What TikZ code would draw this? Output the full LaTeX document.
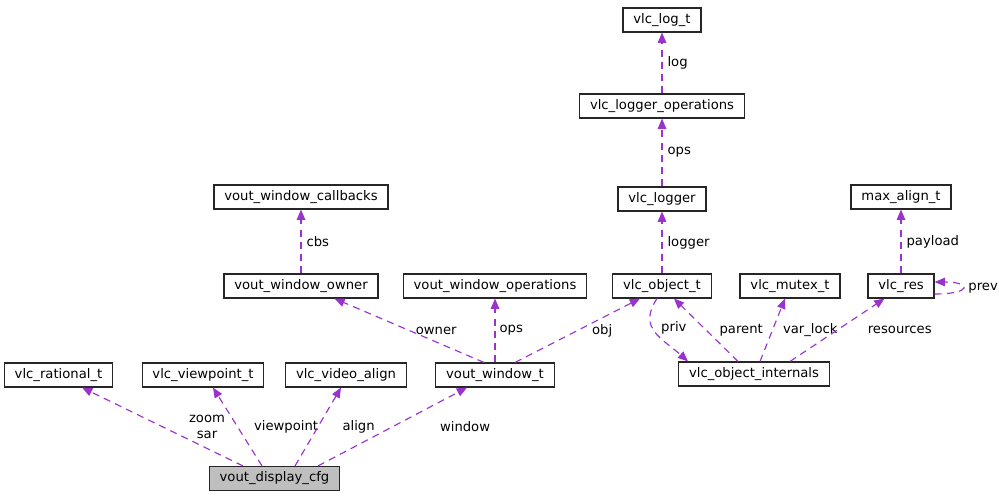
\documentclass[tikz,border=0pt]{standalone}
\usepackage{fontspec}
\setmainfont{DejaVu Sans}
\usetikzlibrary{arrows.meta, calc, positioning}
\definecolor{edgecol}{HTML}{9A32CD}
\definecolor{rootfill}{HTML}{BFBFBF}

\begin{document}
\begin{tikzpicture}[->,>={Triangle[length=5.8pt,width=4.8pt]},font=\fontsize{7.5}{9}\selectfont]
	\tikzset{struct/.style={draw=black!85, rectangle, line width=0.7pt, inner xsep=5.9pt, inner ysep=0pt, minimum height=13.6pt},
		root/.style={struct, fill=rootfill},
		use/.style={draw=edgecol, line width=0.65pt, dash pattern=on 4pt off 3pt},
		lab/.style={anchor=west, inner sep=0pt, align=center}}
	\useasboundingbox (0,0) rectangle (19.98,9.98);
	\node[struct] (log) at (13.24,9.58) {vlc\_log\_t};
	\node[struct] (loggerops) at (13.24,7.86) {vlc\_logger\_operations};
	\node[struct] (logger) at (13.24,6.00) {vlc\_logger};
	\node[struct] (object) at (13.24,4.26) {vlc\_object\_t};
	\node[struct] (callbacks) at (6.02,6.04) {vout\_window\_callbacks};
	\node[struct] (owner) at (6.02,4.26) {vout\_window\_owner};
	\node[struct] (winops) at (9.90,4.26) {vout\_window\_operations};
	\node[struct] (mutex) at (15.80,4.26) {vlc\_mutex\_t};
	\node[struct] (maxalign) at (18.02,6.04) {max\_align\_t};
	\node[struct] (res) at (18.02,4.26) {vlc\_res};
	\node[struct] (internals) at (15.08,2.50) {vlc\_object\_internals};
	\node[struct] (rational) at (1.17,2.48) {vlc\_rational\_t};
	\node[struct] (viewpoint) at (4.06,2.48) {vlc\_viewpoint\_t};
	\node[struct] (align) at (6.92,2.48) {vlc\_video\_align};
	\node[struct] (window) at (9.90,2.48) {vout\_window\_t};
	\node[root] (cfg) at (5.49,0.41) {vout\_display\_cfg};
	\path
		(loggerops)
			edge [use] node [lab, xshift=0.1cm] {log} (log)
		(logger)
			edge [use] node [lab, xshift=0.1cm] {ops} (loggerops)
		(object)
			edge [use] node [lab, xshift=0.1cm] {logger} (logger)
		(owner)
			edge [use] node [lab, xshift=0.1cm] {cbs} (callbacks)
		(res)
			edge [use] node [lab, xshift=0.1cm] {payload} (maxalign)
		(window)
			edge [use] node [lab, xshift=0.08cm] {ops} (winops)
		($(window.north)+(-0.22,0)$)
			edge [use] node [lab, xshift=0.12cm] {owner} ($(owner.south)+(0.67,0)$)
		($(window.north)+(0.4,0)$)
			edge [use] node [lab, xshift=0.28cm] {obj} ($(object.south)+(-0.44,0)$)
		($(internals.north)+(-0.32,0)$)
			edge [use] node [lab, xshift=0.26cm] {parent} ($(object.south)+(0.24,0)$)
		($(internals.north)+(0.12,0)$)
			edge [use] node [lab, xshift=0.2cm] {var\_lock} ($(mutex.south)+(-0.1,0)$)
		($(internals.north)+(0.72,0)$)
			edge [use] node [lab, xshift=0.6cm] {resources} ($(res.south)+(-0.33,0)$)
		($(cfg.north)+(-0.63,0)$)
			edge [use] node [lab, xshift=0.52cm] {zoom\\sar} ($(rational.south)+(0.47,0)$)
		($(cfg.north)+(-0.25,0)$)
			edge [use] node [lab, xshift=0.32cm] {viewpoint} ($(viewpoint.south)+(0.2,0)$)
		($(cfg.north)+(0.41,0)$)
			edge [use] node [lab, xshift=0.48cm] {align} ($(align.south)+(-0.1,0)$)
		($(cfg.north)+(0.87,0)$)
			edge [use] node [lab, xshift=0.94cm] {window} ($(window.south)+(-0.56,0)$);
	\draw[use] ($(object.south)+(-0.1,0)$) .. controls +(-0.4,-0.6) and +(-0.5,0.45) .. node [lab, pos=0.42, xshift=0.16cm] {priv} ($(internals.north)+(-1.32,0)$);
	\draw[use] ($(res.east)+(0,-0.16)$) .. controls +(0.75,0) and +(0.75,0) .. node [lab, xshift=0.1cm] {prev} ($(res.east)+(0,0.08)$);
\end{tikzpicture}
\end{document}
